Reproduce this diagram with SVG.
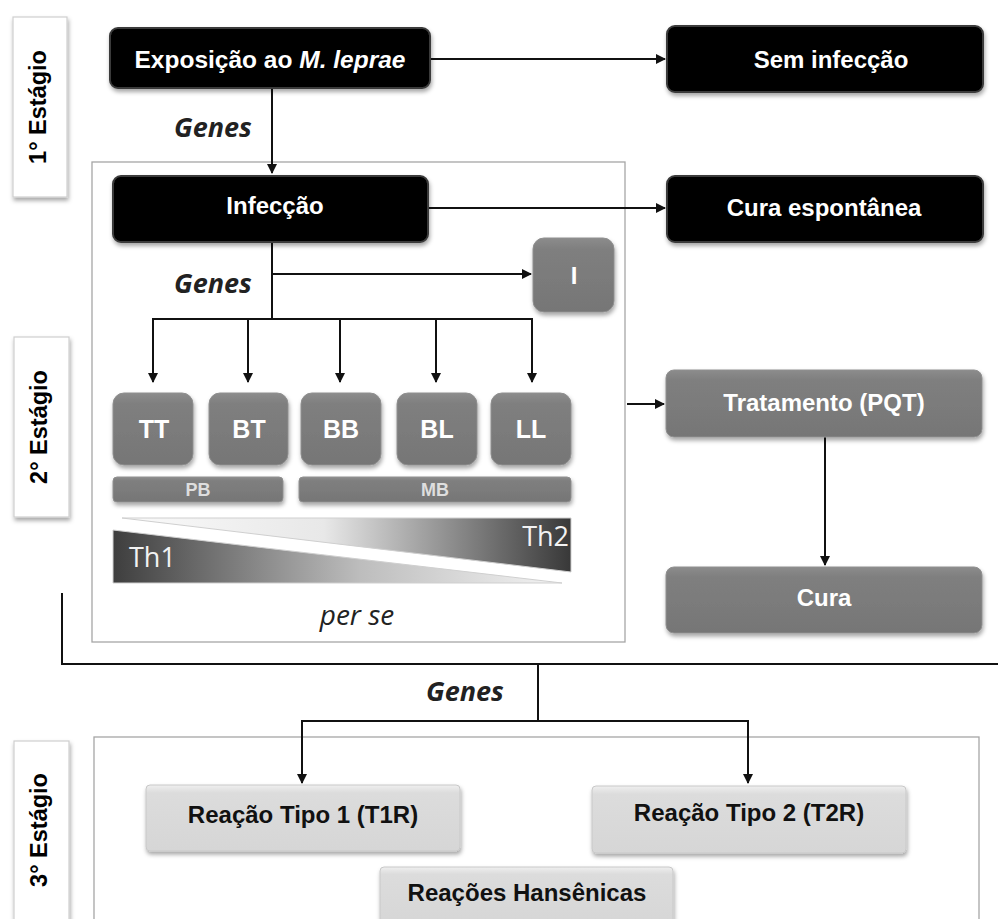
<svg xmlns="http://www.w3.org/2000/svg" width="998" height="919" viewBox="0 0 998 919">
<defs>
<style>
.lbl{font-family:"Liberation Sans",Arial,sans-serif;font-weight:bold;text-anchor:middle;dominant-baseline:central}
.w{fill:#ffffff}
.k{fill:#111111}
.stage{font-family:"Liberation Sans",Arial,sans-serif;font-weight:bold;font-size:23.5px;fill:#000;text-anchor:middle;dominant-baseline:central}
.genes{font-family:"Open Sans","DejaVu Sans",sans-serif;font-weight:bold;font-style:italic;font-size:27px;fill:#222;text-anchor:middle}
.th{font-family:"Open Sans","DejaVu Sans",sans-serif;font-size:27px;fill:#f2f2f2}
.frame{fill:none;stroke:#a6a6a6;stroke-width:1.3}
.conn{fill:none;stroke:#111;stroke-width:2}
.blk{fill:#000;stroke:#3a3a3a;stroke-width:2}
.gry{fill:url(#gg);stroke:#8f8f8f;stroke-width:1}
.lgt{fill:url(#lg);stroke:#c8c8c8;stroke-width:1}
.stbox{fill:#fff;stroke:#cfcfcf;stroke-width:1.2}
</style>
<linearGradient id="gg" x1="0" y1="0" x2="0" y2="1">
<stop offset="0" stop-color="#8c8c8c"/>
<stop offset="0.15" stop-color="#7f7f7f"/>
<stop offset="1" stop-color="#767676"/>
</linearGradient>
<linearGradient id="lg" x1="0" y1="0" x2="0" y2="1">
<stop offset="0" stop-color="#efefef"/>
<stop offset="0.12" stop-color="#dcdcdc"/>
<stop offset="1" stop-color="#d6d6d6"/>
</linearGradient>
<linearGradient id="th1" x1="0" y1="0" x2="1" y2="0">
<stop offset="0" stop-color="#3e3e3e"/>
<stop offset="0.55" stop-color="#bdbdbd"/>
<stop offset="1" stop-color="#f4f4f4"/>
</linearGradient>
<linearGradient id="th2" x1="0" y1="0" x2="1" y2="0">
<stop offset="0" stop-color="#fafafa"/>
<stop offset="0.45" stop-color="#e8e8e8"/>
<stop offset="1" stop-color="#383838"/>
</linearGradient>
<filter id="sh" x="-10%" y="-10%" width="125%" height="140%">
<feDropShadow dx="1" dy="3" stdDeviation="2" flood-color="#000" flood-opacity="0.35"/>
</filter>
<marker id="ah" viewBox="0 0 10 10" refX="9" refY="5" markerWidth="5" markerHeight="5" orient="auto" markerUnits="strokeWidth">
<path d="M0,0 L10,5 L0,10 z" fill="#111"/>
</marker>
</defs>

<!-- stage frames -->
<g id="frames">
<rect class="frame" x="92" y="162" width="533" height="480"/>
<rect class="frame" x="94" y="737" width="885" height="190"/>
</g>

<!-- stage labels -->
<g id="stage1">
<rect class="stbox" x="13" y="17" width="54" height="180" filter="url(#sh)"/>
<text class="stage" transform="translate(38,107) rotate(-90)">1° Estágio</text>
</g>
<g id="stage2">
<rect class="stbox" x="14" y="337" width="55" height="180" filter="url(#sh)"/>
<text class="stage" transform="translate(39,427) rotate(-90)">2° Estágio</text>
</g>
<g id="stage3">
<rect class="stbox" x="14" y="741" width="55" height="190" filter="url(#sh)"/>
<text class="stage" transform="translate(39,830) rotate(-90)">3° Estágio</text>
</g>

<!-- connectors -->
<g id="connectors">
<path class="conn" d="M430,59 H665" marker-end="url(#ah)"/>
<path class="conn" d="M272,88 V173" marker-end="url(#ah)"/>
<path class="conn" d="M428,208 H665" marker-end="url(#ah)"/>
<path class="conn" d="M272,242 V319"/>
<path class="conn" d="M272,274 H531" marker-end="url(#ah)"/>
<path class="conn" d="M153,319 H532"/>
<path class="conn" d="M153,318 V382" marker-end="url(#ah)"/>
<path class="conn" d="M248,318 V382" marker-end="url(#ah)"/>
<path class="conn" d="M340,318 V382" marker-end="url(#ah)"/>
<path class="conn" d="M436,318 V382" marker-end="url(#ah)"/>
<path class="conn" d="M532,318 V382" marker-end="url(#ah)"/>
<path class="conn" d="M627,404 H664" marker-end="url(#ah)"/>
<path class="conn" d="M825,437 V565" marker-end="url(#ah)"/>
<path class="conn" d="M62,593 V664 H998"/>
<path class="conn" d="M538,664 V721"/>
<path class="conn" d="M302,721 H748"/>
<path class="conn" d="M302,720 V783" marker-end="url(#ah)"/>
<path class="conn" d="M748,720 V783" marker-end="url(#ah)"/>
</g>

<!-- edge labels -->
<g id="edge-labels">
<text class="genes" x="213" y="137">Genes</text>
<text class="genes" x="213" y="293">Genes</text>
<text class="genes" x="465" y="701">Genes</text>
</g>

<!-- 1st stage nodes -->
<g id="exposicao">
<rect class="blk" x="110" y="28" width="320" height="60" rx="8" filter="url(#sh)"/>
<text class="lbl w" x="270" y="59" font-size="24.5">Exposição ao <tspan font-style="italic">M. leprae</tspan></text>
</g>
<g id="sem-infeccao">
<rect class="blk" x="667" y="26" width="316" height="66" rx="8" filter="url(#sh)"/>
<text class="lbl w" x="831" y="59" font-size="24">Sem infecção</text>
</g>

<!-- 2nd stage nodes -->
<g id="infeccao">
<rect class="blk" x="113" y="176" width="315" height="66" rx="8" filter="url(#sh)"/>
<text class="lbl w" x="275" y="205" font-size="24">Infecção</text>
</g>
<g id="cura-espontanea">
<rect class="blk" x="667" y="176" width="316" height="66" rx="8" filter="url(#sh)"/>
<text class="lbl w" x="824" y="207" font-size="24">Cura espontânea</text>
</g>
<g id="node-I">
<rect class="gry" x="533" y="238" width="81" height="74" rx="11" filter="url(#sh)"/>
<text class="lbl w" x="574" y="275" font-size="24">I</text>
</g>
<g id="node-TT">
<rect class="gry" x="113" y="393" width="80" height="72" rx="11" filter="url(#sh)"/>
<text class="lbl w" x="154" y="429" font-size="25">TT</text>
</g>
<g id="node-BT">
<rect class="gry" x="209" y="393" width="79" height="72" rx="11" filter="url(#sh)"/>
<text class="lbl w" x="249" y="429" font-size="25">BT</text>
</g>
<g id="node-BB">
<rect class="gry" x="301" y="393" width="80" height="72" rx="11" filter="url(#sh)"/>
<text class="lbl w" x="341" y="429" font-size="25">BB</text>
</g>
<g id="node-BL">
<rect class="gry" x="397" y="393" width="80" height="72" rx="11" filter="url(#sh)"/>
<text class="lbl w" x="437" y="429" font-size="25">BL</text>
</g>
<g id="node-LL">
<rect class="gry" x="491" y="393" width="80" height="72" rx="11" filter="url(#sh)"/>
<text class="lbl w" x="531" y="429" font-size="25">LL</text>
</g>
<g id="bar-PB">
<rect class="gry" x="113" y="477" width="170" height="25" rx="4" filter="url(#sh)"/>
<text class="lbl" x="198" y="490" font-size="18" font-weight="normal" fill="#dedede">PB</text>
</g>
<g id="bar-MB">
<rect class="gry" x="299" y="477" width="272" height="25" rx="4" filter="url(#sh)"/>
<text class="lbl" x="435" y="490" font-size="18" font-weight="normal" fill="#dedede">MB</text>
</g>
<g id="th-gradient">
<polygon points="122,518 571,518 571,572" fill="url(#th2)" stroke="#cfcfcf" stroke-width="1"/>
<polygon points="113,530 113,583 562,583" fill="url(#th1)" stroke="#cfcfcf" stroke-width="1"/>
<text class="th" x="129" y="567">Th1</text>
<text class="th" x="569" y="546" text-anchor="end">Th2</text>
</g>
<text x="357" y="625" font-family="'Open Sans','DejaVu Sans',sans-serif" font-style="italic" font-size="28" fill="#222" text-anchor="middle">per se</text>
<g id="tratamento">
<rect class="gry" x="666" y="370" width="316" height="67" rx="8" filter="url(#sh)"/>
<text class="lbl w" x="824" y="402" font-size="24">Tratamento (PQT)</text>
</g>
<g id="cura">
<rect class="gry" x="666" y="567" width="316" height="66" rx="8" filter="url(#sh)"/>
<text class="lbl w" x="824" y="597" font-size="24">Cura</text>
</g>

<!-- 3rd stage nodes -->
<g id="reacao-t1r">
<rect class="lgt" x="146" y="785" width="314" height="66" rx="4" filter="url(#sh)"/>
<text class="lbl k" x="303" y="814" font-size="24">Reação Tipo 1 (T1R)</text>
</g>
<g id="reacao-t2r">
<rect class="lgt" x="592" y="786" width="314" height="67" rx="4" filter="url(#sh)"/>
<text class="lbl k" x="749" y="812" font-size="24">Reação Tipo 2 (T2R)</text>
</g>
<g id="reacoes-hansenicas">
<rect class="lgt" x="380" y="867" width="293" height="60" rx="4" filter="url(#sh)"/>
<text class="lbl k" x="527" y="892" font-size="24">Reações Hansênicas</text>
</g>
</svg>
